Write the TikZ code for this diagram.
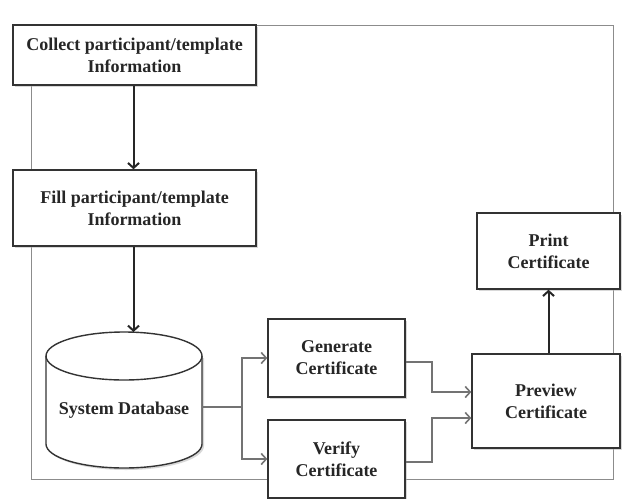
\documentclass[tikz,border=0pt]{standalone}
\usepackage{fontspec}
\setmainfont{Liberation Serif}
\usetikzlibrary{arrows.meta,shadows,calc}
\begin{document}
\begin{tikzpicture}[x=1pt,y=-1pt,
  lbl/.style={text=black!85, font=\bfseries\fontsize{18}{22}\selectfont},
  box/.style={lbl, draw=black!80, line width=1.4pt, fill=white, align=center,
    inner sep=2pt,
    drop shadow={shadow xshift=1.5pt, shadow yshift=-1.5pt, fill=black!30, opacity=0.5}},
  darrow/.style={draw=black!85, line width=2pt, -{Straight Barb[length=5pt,width=11pt,line width=2pt]}},
  garrow/.style={draw=black!55, line width=1.3pt, -{Straight Barb[length=5pt,width=11pt,line width=1.6pt]}},
  gline/.style={draw=black!55, line width=1.3pt},
  frame/.style={draw=black!45, line width=0.8pt}]
\useasboundingbox (0,0) rectangle (628,498);
\draw[frame] (31,25) rectangle (613,479);
\node[box, minimum width=243pt, minimum height=60pt] (collect) at (134.5,55) {Collect participant/template\\Information};
\node[box, minimum width=243pt, minimum height=76pt] (fill) at (134.5,208) {Fill participant/template\\Information};
% cylinder
\fill[black!30, opacity=0.5] (48,358) -- (48,446) arc[start angle=180, end angle=360, x radius=78pt, y radius=24pt] -- (204,358) -- cycle;
\filldraw[draw=black!80, fill=white, line width=1.4pt] (46,356) -- (46,444) arc[start angle=180, end angle=360, x radius=78pt, y radius=24pt] -- (202,356) arc[start angle=0, end angle=180, x radius=78pt, y radius=24pt] -- cycle;
\draw[draw=black!80, line width=1.4pt] (46,356) arc[start angle=180, end angle=360, x radius=78pt, y radius=24pt];
\node[minimum width=156pt, minimum height=136pt, inner sep=0pt] (db) at (124,400) {};
\node[lbl] (dbtext) at (124,410) {System Database};
\node[box, minimum width=137pt, minimum height=78pt] (gen) at (336.5,358) {Generate\\Certificate};
\node[box, minimum width=137pt, minimum height=78pt] (ver) at (336.5,459) {Verify\\Certificate};
\node[box, minimum width=148pt, minimum height=94pt] (prev) at (546,401) {Preview\\Certificate};
\node[box, minimum width=143pt, minimum height=76pt] (print) at (548.5,251) {Print\\Certificate};
\coordinate (dbout) at (202,407);
\coordinate (split) at (242,407);
\coordinate (dbin) at (133.5,332);
\draw[darrow] (collect.south -| dbin) -- (fill.north -| dbin);
\draw[darrow] (fill.south -| dbin) -- (dbin);
\draw[darrow] ([xshift=2.5pt]prev.north) -- ([xshift=2.5pt]prev.north |- print.south);
\draw[gline] (dbout) -- (split);
\draw[garrow] (split) |- (gen.west);
\draw[garrow] (split) |- (ver.west);
\coordinate (pin1) at ([yshift=9pt]prev.west);
\coordinate (pin2) at ([yshift=-17pt]prev.west);
\draw[garrow] ([yshift=-4pt]gen.east) -- (432,362) |- (pin1);
\draw[garrow] ([yshift=-3pt]ver.east) -- (432,462) |- (pin2);
\end{tikzpicture}
\end{document}
